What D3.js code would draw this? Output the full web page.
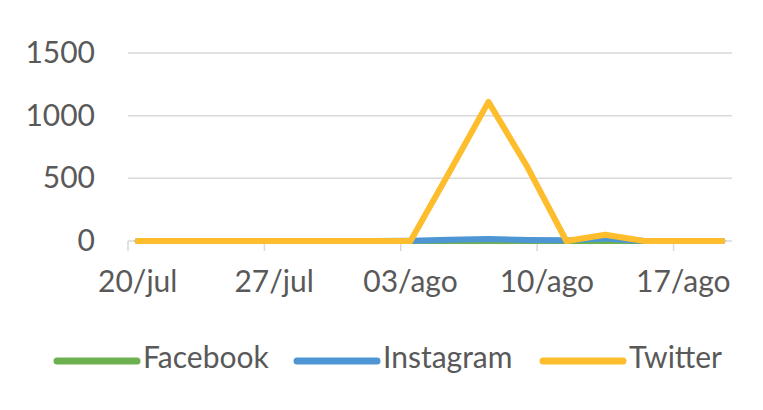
<!DOCTYPE html>
<html>
<head>
<meta charset="utf-8">
<script src="https://cdn.jsdelivr.net/npm/d3@7"></script>
<style>
  body { margin: 0; background: #fff; }
  text { font-family: Lato, "Open Sans", sans-serif; fill: #595959; }
</style>
</head>
<body>
<div id="chart"></div>
<script>
// data, one point every 2 days
var dates = ["2020-07-20","2020-07-22","2020-07-24","2020-07-26","2020-07-28","2020-07-30",
  "2020-08-01","2020-08-03","2020-08-05","2020-08-07","2020-08-09","2020-08-11",
  "2020-08-13","2020-08-15","2020-08-17","2020-08-19"];
var facebook  = [0,0,0,0,0,0,0,0,0,0,0,0,0,0,0,0];
var instagram = [0,0,0,0,0,0,0,2,10,15,8,5,20,0,0,0];
var twitter   = [0,0,0,0,0,0,0,0,550,1110,590,0,50,0,0,0];
var seriesNames = ["Facebook","Instagram","Twitter"];
var seriesColors = ["#6cb14f","#4e96d3","#fdbd2c"];
var yTicks = [0,500,1000,1500];
var xTickDates = ["2020-07-20","2020-07-27","2020-08-03","2020-08-10","2020-08-17"];
var xTickLabels = ["20/jul","27/jul","03/ago","10/ago","17/ago"];

(function () {
  var width = 763, height = 410;
  var parse = d3.timeParse("%Y-%m-%d");
  var halfDay = 12 * 3600 * 1000;

  var svg = d3.select("#chart").append("svg")
    .attr("width", width).attr("height", height);

  var x = d3.scaleTime()
    .domain([parse("2020-07-20"), parse("2020-08-20")])
    .range([128, 732]);
  var y = d3.scaleLinear().domain([0, 1500]).range([241, 53]);

  // gridlines
  svg.selectAll(".grid").data(yTicks.filter(function(d){ return d > 0; }))
    .enter().append("line").attr("class","grid")
      .attr("x1", 128).attr("x2", 732)
      .attr("y1", function(d){ return y(d); })
      .attr("y2", function(d){ return y(d); })
      .attr("stroke", "#d9d9d9").attr("stroke-width", 1.5);

  // x axis line + ticks
  svg.append("line")
    .attr("x1", 128).attr("x2", 732).attr("y1", y(0)).attr("y2", y(0))
    .attr("stroke", "#d9d9d9").attr("stroke-width", 1.5);
  svg.selectAll(".xtick").data(xTickDates)
    .enter().append("line").attr("class","xtick")
      .attr("x1", function(d){ return x(parse(d)); })
      .attr("x2", function(d){ return x(parse(d)); })
      .attr("y1", y(0)).attr("y2", y(0) + 10)
      .attr("stroke", "#d9d9d9").attr("stroke-width", 1.5);

  // y labels
  svg.selectAll(".ylab").data(yTicks)
    .enter().append("text").attr("class","ylab")
      .attr("x", 95).attr("y", function(d){ return y(d) + 10; })
      .attr("text-anchor", "end").attr("font-size", 30)
      .text(function(d){ return d; });

  // x labels, centred on the day
  svg.selectAll(".xlab").data(xTickDates)
    .enter().append("text").attr("class","xlab")
      .attr("x", function(d){ return x(new Date(+parse(d) + halfDay)); })
      .attr("y", 292).attr("text-anchor", "middle").attr("font-size", 30)
      .text(function(d, i){ return xTickLabels[i]; });

  // lines
  var allSeries = [facebook, instagram, twitter];
  var line = d3.line()
    .x(function(d, i){ return x(new Date(+parse(dates[i]) + halfDay)); })
    .y(function(d){ return y(d); });

  svg.selectAll(".serie").data(allSeries)
    .enter().append("path").attr("class","serie")
      .attr("d", line)
      .attr("fill", "none")
      .attr("stroke", function(d, i){ return seriesColors[i]; })
      .attr("stroke-width", 6)
      .attr("stroke-linejoin", "round")
      .attr("stroke-linecap", "round");

  // legend
  var legX = [57, 297, 543];
  var leg = svg.selectAll(".leg").data(seriesNames)
    .enter().append("g").attr("class","leg")
      .attr("transform", function(d, i){ return "translate(" + legX[i] + ",361)"; });
  leg.append("line")
    .attr("x1", 0).attr("x2", 80).attr("y1", 0).attr("y2", 0)
    .attr("stroke", function(d, i){ return seriesColors[i]; })
    .attr("stroke-width", 7).attr("stroke-linecap", "round");
  leg.append("text")
    .attr("x", 86).attr("y", 7).attr("font-size", 30)
    .text(function(d){ return d; });
})();
</script>
</body>
</html>
